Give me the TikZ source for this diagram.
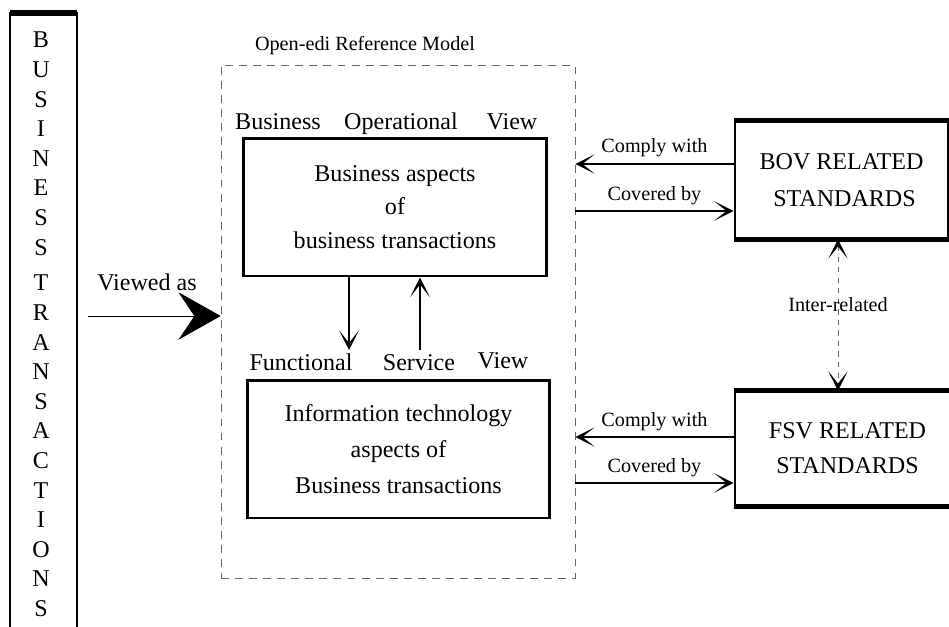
\documentclass[tikz,border=0pt]{standalone}
\usepackage{fontspec}
\setmainfont{Liberation Serif}
\usetikzlibrary{arrows.meta}
\begin{document}
\begin{tikzpicture}[x=0.02cm,y=-0.02cm,
    big/.style={font=\fontsize{13.7}{16.5}\selectfont},
    small/.style={font=\fontsize{11.5}{14}\selectfont},
    viewlabel/.style={big,anchor=base},
    aspect/.style={draw,line width=1.7pt,minimum width=6.06cm,minimum height=2.76cm,align=center,inner sep=0pt},
    stdbox/.style={draw,line width=1.6pt,align=center,inner sep=0pt},
    arr/.style={line width=0.9pt,-{Stealth[length=11pt,width=11pt,inset=7pt]}},
    dbl/.style={{Stealth[length=11pt,width=11pt,inset=7pt,color=black]}-{Stealth[length=11pt,width=11pt,inset=7pt,color=black]}}]
\useasboundingbox (0,0) rectangle (949,626);
% business transactions column
\draw[line width=1.7pt] (10,640) -- (10,13) -- (77,13) -- (77,640);
\draw[line width=3pt] (10,13) -- (77,13);
\foreach \ch [count=\i] in {B,U,S,I,N,E,S,S}
    \node[big] (bu\i) at (41,{40+29.6*(\i-1)}) {\ch};
\foreach \ch [count=\i] in {T,R,A,N,S,A,C,T,I,O,N,S}
    \node[big] (tr\i) at (41,{283+29.6*(\i-1)}) {\ch};
% open-edi frame
\node[draw=black!60,dashed,dash pattern=on 4.5pt off 3.5pt,minimum width=7.08cm,minimum height=10.26cm,inner sep=0pt] (oedi) at (398,321.5) {};
\node[small] (title) at (365,46) {Open-edi Reference Model};
\node[big] (va) at (147,282) {Viewed as};
\coordinate (vs) at (88,316);
\draw[-{Stealth[length=24pt,width=27pt,inset=9pt]}] (vs) -- (vs -| oedi.west);
% business operational view
\node[viewlabel] (bus) at (278,129) {Business};
\node[viewlabel] (op) at (401,129) {Operational};
\node[viewlabel] (bv) at (512,129) {View};
\node[aspect,minimum width=6.08cm,font=\fontsize{13.7}{19}\selectfont] (bat) at (395,207) {Business aspects\\of\\business transactions};
% functional service view
\node[viewlabel] (fun) at (301,370) {Functional};
\node[viewlabel] (ser) at (419,370) {Service};
\node[viewlabel] (fv) at (503,368) {View};
\node[aspect,font=\fontsize{13.7}{20.5}\selectfont] (ita) at (398.5,449) {Information technology\\aspects of\\Business transactions};
\coordinate (fd) at (349,350);
\draw[arr] (bat.south -| fd) -- (fd);
\coordinate (su) at (420,350);
\draw[arr] (su) -- (bat.south -| su);
% related standards
\node[stdbox,minimum width=4.26cm,minimum height=2.32cm,font=\fontsize{13.7}{21}\selectfont] (bov) at (841.5,180) {BOV RELATED\\\ STANDARDS};
\draw[line width=3pt] (bov.north west) -- (bov.north east);
\draw[line width=3pt] (bov.south west) -- (bov.south east);
\node[stdbox,minimum width=4.5cm,minimum height=2.26cm,font=\fontsize{13.7}{20}\selectfont] (fsv) at (847.5,448.5) {FSV RELATED\\STANDARDS};
\draw[line width=3pt] (fsv.north west) -- (fsv.north east);
\draw[line width=3pt] (fsv.south west) -- (fsv.south east);
\draw[arr] (bov.west |- 0,164) -- node[small,above]{Comply with} (oedi.east |- 0,164);
\draw[arr] (oedi.east |- 0,211) -- node[small,above]{Covered by} (bov.west |- 0,211);
\draw[arr] (fsv.west |- 0,437) -- node[small,above]{Comply with} (oedi.east |- 0,437);
\draw[arr] (oedi.east |- 0,483) -- node[small,above]{Covered by} (fsv.west |- 0,483);
\draw[dbl,draw=black!60,dashed] (bov.south -| 838,0) -- node[small,yshift=6pt]{Inter-related} (fsv.north -| 838,0);
\end{tikzpicture}
\end{document}
